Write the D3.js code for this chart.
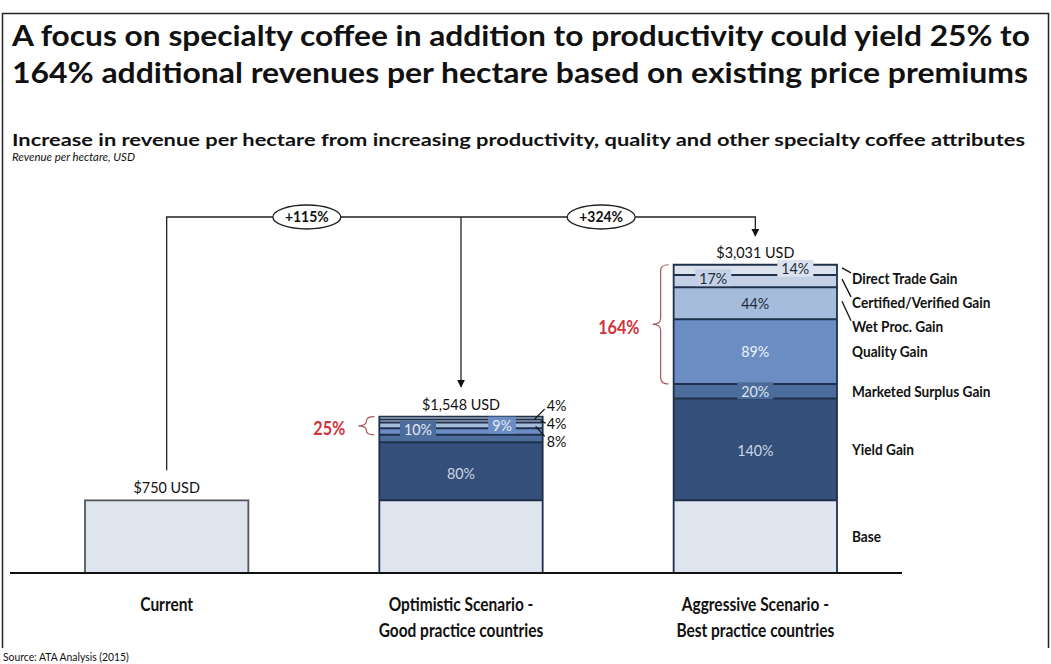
<!DOCTYPE html>
<html>
<head>
<meta charset="utf-8">
<script src="https://cdn.jsdelivr.net/npm/d3@7"></script>
<style>
  body { margin: 0; background: #fff; }
  svg { display: block; font-family: Lato, "Open Sans", sans-serif; }
</style>
</head>
<body>
<svg id="chart" width="1051" height="664"></svg>
<script>
// ---- data ----
const categories = ["Current", "Optimistic", "Aggressive"];
const categoryLines = [
  ["Current"],
  ["Optimistic Scenario -", "Good practice countries"],
  ["Aggressive Scenario -", "Best practice countries"]
];
const segments = ["Base", "Yield Gain", "Marketed Surplus Gain", "Quality Gain",
  "Wet Proc. Gain", "Certified/Verified Gain", "Direct Trade Gain"];
// share of base revenue, %
const currentShares = [100];
const optimisticShares = [100, 80, 10, 9, 8, 4, 4];
const aggressiveShares = [100, 140, 20, 89, 44, 17, 14];
const totalLabels = ["$750 USD", "$1,548 USD", "$3,031 USD"];
const growthLabels = ["+115%", "+324%"];
const specialtyLabels = ["25%", "164%"];

const titleLines = [
  "A focus on specialty coffee in addition to productivity could yield 25% to",
  "164% additional revenues per hectare based on existing price premiums"
];
const subtitle = "Increase in revenue per hectare from increasing productivity, quality and other specialty coffee attributes";
const unitNote = "Revenue per hectare, USD";
const sourceNote = "Source: ATA Analysis (2015)";

// ---- setup ----
const svg = d3.select("#chart");
const segColors = ["#dfe5ef", "#34507a", "#4c6c9b", "#6b8dc3", "#a6bcdc", "#c3d0e5", "#dbe2ee"];
const sepColor = "#1e304b";
const red = "#d2343c";

const x = d3.scaleBand().domain(categories).range([85, 837]).paddingInner(0.445);
const y = d3.scaleLinear().domain([0, 430]).range([573, 260.4]);
const cx = c => x(c) + x.bandwidth() / 2;

const stacks = [currentShares, optimisticShares, aggressiveShares].map((vals, ci) => {
  let acc = 0;
  return vals.map((v, i) => {
    const d = { cat: categories[ci], i, v, y0: acc, y1: acc + v };
    acc += v;
    return d;
  });
});
const totals = stacks.map(s => s[s.length - 1].y1);

function condense(sel, k) {
  sel.each(function () {
    const n = this.getComputedTextLength();
    d3.select(this).attr("textLength", n * k).attr("lengthAdjust", "spacingAndGlyphs");
  });
}

// frame
svg.append("path")
  .attr("d", "M2.5,648 V13.5 H1048.5 V648")
  .attr("fill", "none").attr("stroke", "#222").attr("stroke-width", 1.5);

// titles
svg.selectAll("text.title").data(titleLines).join("text")
  .attr("class", "title")
  .attr("x", 12).attr("y", (d, i) => 46 + i * 37)
  .attr("font-size", 29).attr("font-weight", 700).attr("fill", "#111")
  .attr("textLength", (d, i) => i ? 1016 : 1018)
  .attr("lengthAdjust", "spacingAndGlyphs")
  .text(d => d);

svg.append("text").attr("x", 12).attr("y", 146)
  .attr("font-size", 17).attr("font-weight", 700).attr("fill", "#111")
  .attr("textLength", 1013).attr("lengthAdjust", "spacingAndGlyphs")
  .text(subtitle);
svg.append("text").attr("x", 12).attr("y", 161)
  .attr("font-size", 12).attr("font-style", "italic").attr("fill", "#111")
  .attr("textLength", 123).attr("lengthAdjust", "spacingAndGlyphs")
  .text(unitNote);

// ---- bars ----
const bars = svg.selectAll("g.bar").data(stacks).join("g").attr("class", "bar");

bars.selectAll("rect.seg").data(d => d).join("rect")
  .attr("class", "seg")
  .attr("x", d => x(d.cat)).attr("width", x.bandwidth())
  .attr("y", d => y(d.y1)).attr("height", d => y(d.y0) - y(d.y1))
  .attr("fill", d => segColors[d.i]);

// separators between segments
bars.selectAll("line.sep").data(d => d.slice(1)).join("line")
  .attr("class", "sep")
  .attr("x1", d => x(d.cat)).attr("x2", d => x(d.cat) + x.bandwidth())
  .attr("y1", d => y(d.y0)).attr("y2", d => y(d.y0))
  .attr("stroke", sepColor).attr("stroke-width", 2);

// outline
bars.append("path")
  .attr("d", s => {
    const c = s[0].cat, top = y(s[s.length - 1].y1);
    return `M${x(c)},${y(0)} V${top} H${x(c) + x.bandwidth()} V${y(0)}`;
  })
  .attr("fill", "none")
  .attr("stroke", (s, i) => i ? sepColor : "#555")
  .attr("stroke-width", 1.8);

// inside labels
const insideCfg = {
  Optimistic: { 1: { dx: 0, dy: 2, box: false, col: "#cdd6e4" },
                2: { dx: -43, dy: -9, box: true, col: "#e4eaf3" },
                3: { dx: 41, dy: -6, box: true, col: "#e4eaf3" } },
  Aggressive: { 1: { dx: 0, dy: 1, box: false, col: "#cdd6e4" },
                2: { dx: 0, dy: 0, box: true, col: "#dde5f0" },
                3: { dx: 0, dy: 0, box: false, col: "#edf1f8" },
                4: { dx: 0, dy: 0, box: false, col: "#1f2a3a" },
                5: { dx: -42, dy: -3, box: true, col: "#1f2a3a" },
                6: { dx: 40, dy: -1, box: true, col: "#1f2a3a" } }
};
stacks.forEach(s => {
  const cfg = insideCfg[s[0].cat];
  if (!cfg) return;
  s.forEach(d => {
    const c = cfg[d.i];
    if (!c) return;
    const lx = cx(d.cat) + c.dx;
    const ly = (y(d.y0) + y(d.y1)) / 2 + c.dy;
    const g = svg.append("g");
    const t = g.append("text")
      .attr("x", lx).attr("y", ly).attr("dy", "0.35em")
      .attr("text-anchor", "middle").attr("font-size", 15.5)
      .attr("fill", c.col).text(d.v + "%");
    condense(t, 0.92);
    if (c.box) {
      const b = t.node().getBBox();
      g.insert("rect", "text")
        .attr("x", b.x - 4).attr("y", ly - 9)
        .attr("width", b.width + 8).attr("height", 17)
        .attr("fill", segColors[d.i]);
    }
  });
});

// outside labels on optimistic bar (wet proc, certified, direct)
const opt = stacks[1];
const optRight = x("Optimistic") + x.bandwidth();
const optOut = [
  { d: opt[6], ly: -12.5, from: [-8, 1], to: [2, -9] },
  { d: opt[5], ly: 2.5, from: [-2, 0], to: [3, 2] },
  { d: opt[4], ly: 16, from: [-7, 1], to: [2, 11] }
];
optOut.forEach(o => {
  const mid = (y(o.d.y0) + y(o.d.y1)) / 2;
  svg.append("line")
    .attr("x1", optRight + o.from[0]).attr("y1", mid + o.from[1])
    .attr("x2", optRight + o.to[0]).attr("y2", mid + o.to[1])
    .attr("stroke", "#111").attr("stroke-width", 1.3);
  const t = svg.append("text")
    .attr("x", optRight + 4).attr("y", mid + o.ly).attr("dy", "0.35em")
    .attr("font-size", 15.5).attr("fill", "#111").text(o.d.v + "%");
  condense(t, 0.92);
});

// segment names to the right of aggressive bar
const agg = stacks[2];
const aggRight = x("Aggressive") + x.bandwidth();
let prevY = -Infinity;
const nameY = agg.slice().reverse().map((d, k) => {
  const mid = (y(d.y0) + y(d.y1)) / 2;
  const ly = k === 0 ? mid + 9 : Math.max(mid, prevY + 24);
  prevY = ly;
  return { d, mid, ly };
});
nameY.forEach(o => {
  if (o.ly - o.mid > 5) {
    svg.append("line")
      .attr("x1", aggRight + 5).attr("y1", o.mid - 2)
      .attr("x2", aggRight + 14).attr("y2", o.ly - 6)
      .attr("stroke", "#111").attr("stroke-width", 1.3);
  }
  const t = svg.append("text")
    .attr("x", aggRight + 15).attr("y", o.ly).attr("dy", "0.35em")
    .attr("font-size", 15.5).attr("font-weight", 700).attr("fill", "#111")
    .text(segments[o.d.i]);
  condense(t, 0.88);
});

// totals above bars
svg.selectAll("text.total").data(categories).join("text")
  .attr("class", "total")
  .attr("x", c => cx(c)).attr("y", (c, i) => y(totals[i]) - 7)
  .attr("text-anchor", "middle").attr("font-size", 16).attr("fill", "#111")
  .text((c, i) => totalLabels[i])
  .call(condense, 0.9);

// specialty brackets
function brace(xr, y0, y1, w) {
  const xm = xr - w / 2, xt = xr - w, ym = (y0 + y1) / 2, r = Math.min(6, (y1 - y0) / 4);
  const p = d3.path();
  p.moveTo(xr, y0);
  p.quadraticCurveTo(xm, y0, xm, y0 + r);
  p.lineTo(xm, ym - r);
  p.quadraticCurveTo(xm, ym, xt, ym);
  p.quadraticCurveTo(xm, ym, xm, ym + r);
  p.lineTo(xm, y1 - r);
  p.quadraticCurveTo(xm, y1, xr, y1);
  return p.toString();
}
[1, 2].forEach((si, k) => {
  const s = stacks[si];
  const c = s[0].cat;
  const yb = y(s[3].y0), yt = y(s[s.length - 1].y1);
  const xr = x(c) - 5;
  svg.append("path").attr("d", brace(xr, yt, yb, 16))
    .attr("fill", "none").attr("stroke", "#a4565a").attr("stroke-width", 1.2);
  svg.append("text")
    .attr("x", xr - 29).attr("y", (yt + yb) / 2 + 3).attr("dy", "0.35em")
    .attr("text-anchor", "end").attr("font-size", 18).attr("font-weight", 700)
    .attr("fill", red).text(specialtyLabels[k])
    .call(condense, 0.9);
});

// growth connectors
const lineY = 217;
svg.append("defs").append("marker")
  .attr("id", "arrow").attr("viewBox", "0 0 8 8").attr("refX", 7).attr("refY", 4)
  .attr("markerWidth", 8).attr("markerHeight", 8).attr("markerUnits", "userSpaceOnUse")
  .attr("orient", "auto")
  .append("path").attr("d", "M0,0 L8,4 L0,8 Z").attr("fill", "#111");

svg.append("path")
  .attr("d", `M${cx("Current")},${y(totals[0]) - 30} V${lineY} H${cx("Aggressive")} V${y(totals[2]) - 29}`)
  .attr("fill", "none").attr("stroke", "#222").attr("stroke-width", 1.3)
  .attr("marker-end", "url(#arrow)");
svg.append("path")
  .attr("d", `M${cx("Optimistic")},${lineY} V${y(totals[1]) - 30}`)
  .attr("fill", "none").attr("stroke", "#222").attr("stroke-width", 1.3)
  .attr("marker-end", "url(#arrow)");

const pills = growthLabels.map((t, i) => ({ t, x: (cx(categories[i]) + cx(categories[i + 1])) / 2 - 7 }));
const pill = svg.selectAll("g.pill").data(pills).join("g").attr("class", "pill");
pill.append("ellipse")
  .attr("cx", d => d.x).attr("cy", lineY).attr("rx", 34).attr("ry", 12)
  .attr("fill", "#fff").attr("stroke", "#222").attr("stroke-width", 1.3);
pill.append("text")
  .attr("x", d => d.x).attr("y", lineY).attr("dy", "0.35em")
  .attr("text-anchor", "middle").attr("font-size", 15.5).attr("font-weight", 700)
  .attr("fill", "#111").text(d => d.t)
  .call(condense, 0.9);

// baseline
svg.append("line")
  .attr("x1", 10).attr("x2", 902).attr("y1", y(0)).attr("y2", y(0))
  .attr("stroke", "#111").attr("stroke-width", 2);

// category labels
categoryLines.forEach((lines, i) => {
  svg.selectAll(null).data(lines).join("text")
    .attr("x", cx(categories[i])).attr("y", (d, k) => 611 + k * 26)
    .attr("text-anchor", "middle").attr("font-size", 18).attr("font-weight", 700)
    .attr("fill", "#111").text(d => d)
    .call(condense, 0.86);
});

svg.append("text").attr("x", 3).attr("y", 661)
  .attr("font-size", 11.5).attr("fill", "#111").text(sourceNote)
  .call(condense, 0.9);
</script>
</body>
</html>
